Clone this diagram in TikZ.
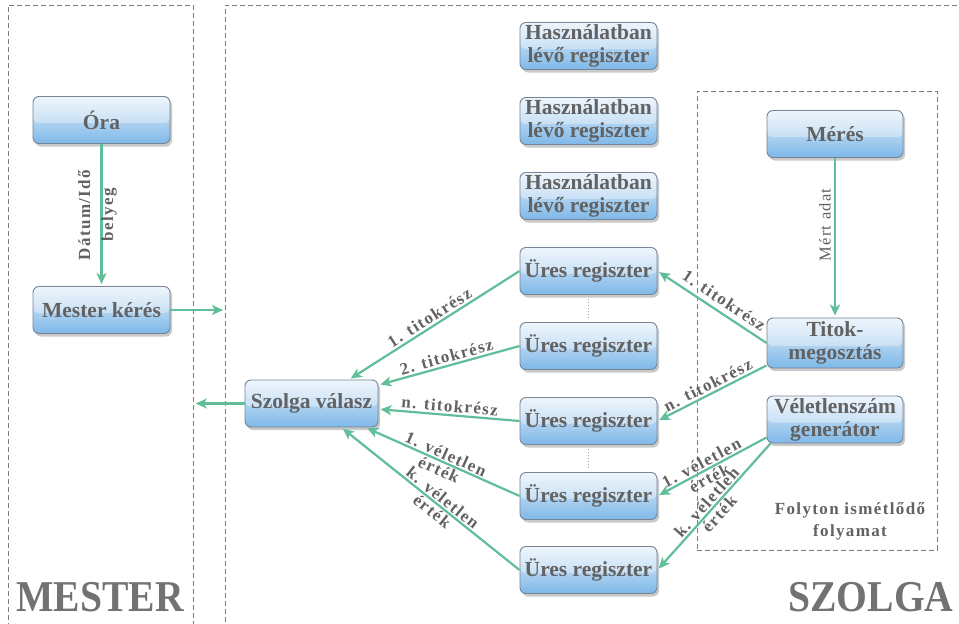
\documentclass[tikz,border=0pt]{standalone}
\usepackage{fontspec}
\setmainfont{Liberation Serif}
\newfontfamily\lblfont[LetterSpace=8]{Liberation Serif}
\newfontfamily\bigfont[FakeStretch=0.9]{Liberation Serif}
\usetikzlibrary{shadows,calc,arrows.meta}

\definecolor{arrowc}{RGB}{96,190,152}
\definecolor{txt}{RGB}{98,98,98}
\definecolor{boxtop}{RGB}{230,241,251}
\definecolor{boxbot}{RGB}{126,184,232}
\definecolor{boxedge}{RGB}{118,132,150}
\definecolor{panelc}{RGB}{125,125,125}

\tikzset{
  box/.style={draw=boxedge, line width=0.9pt, rounded corners=6pt,
    top color=boxtop, bottom color=boxbot,
    minimum width=137pt, minimum height=47pt, inner sep=1pt,
    align=center, text=txt, font=\bfseries\fontsize{21.5}{23}\selectfont,
    drop shadow={shadow xshift=2pt, shadow yshift=-3pt, opacity=0.35, fill=black!60},
    path picture={\fill[white,opacity=0.35]
      (path picture bounding box.north west) rectangle ([yshift=-3pt]path picture bounding box.east);}},
  panel/.style={draw=panelc, line width=0.8pt, dash pattern=on 5pt off 3pt},
  arr/.style={draw=arrowc, line width=2.2pt, shorten >=2pt,
    -{Stealth[length=11pt, width=10pt, inset=3pt]}},
  lbl/.style={font=\lblfont\bfseries\fontsize{17}{17}\selectfont, text=txt,
    align=center, inner sep=2pt},
  big/.style={font=\bigfont\bfseries\fontsize{44}{44}\selectfont, text=txt!90, anchor=base}
}

\begin{document}
\begin{tikzpicture}[x=1pt,y=-1pt]
\useasboundingbox (0,0) rectangle (959,624);
\fill[white] (0,0) rectangle (959,624);

% panels
\node[panel, minimum width=185pt, minimum height=700pt, anchor=north west, inner sep=0pt] (mp) at (8,5) {};
\node[panel, minimum width=780pt, minimum height=700pt, anchor=north west, inner sep=0pt] (sp) at (225,5) {};
\node[panel, minimum width=240pt, minimum height=459pt, anchor=north west, inner sep=0pt] (fp) at (697,91) {};

% MESTER side
\node[box] (ora) at (101.5,120) {Óra};
\node[box] (mk) at (101.5,310) {Mester kérés};

% SZOLGA side
\node[box, minimum width=133pt] (sz) at (311.5,403.5) {Szolga válasz};

\node[box] (h1) at (588.5,46)  {Használatban\\lévő regiszter};
\node[box] (h2) at (588.5,121) {Használatban\\lévő regiszter};
\node[box] (h3) at (588.5,196) {Használatban\\lévő regiszter};

\node[box] (u1) at (588.5,271) {Üres regiszter};
\node[box] (u2) at (588.5,346) {Üres regiszter};
\node[box] (u3) at (588.5,421) {Üres regiszter};
\node[box] (u4) at (588.5,496) {Üres regiszter};
\node[box] (u5) at (588.5,570) {Üres regiszter};

\node[box, minimum width=136pt] (me) at (835,134) {Mérés};
\node[box, minimum width=136pt, minimum height=50pt] (tm) at (835,343) {Titok-\\megosztás};
\node[box, minimum width=136pt] (vg) at (835,419.5) {Véletlenszám\\generátor};

% register gaps
\draw[dotted, line width=1pt, gray!70] ([yshift=-4pt]u1.south) -- ([yshift=4pt]u2.north);
\draw[dotted, line width=1pt, gray!70] ([yshift=-4pt]u3.south) -- ([yshift=4pt]u4.north);

% connectors
\draw[arr] (ora) -- node[lbl, rotate=90, yshift=4pt,
  font=\lblfont\bfseries\fontsize{17}{23}\selectfont] {Dátum/Idő\\belyeg} (mk);
\draw[arr] (mk.east) -- (mk.east -| sp.west);
\draw[arr] (sz.west) -- (sz.west -| mp.east);
\draw[arr] (me) -- node[pos=.42, rotate=90, anchor=south, inner sep=3pt,
  font=\lblfont\fontsize{16.5}{16.5}\selectfont, text=txt] {Mért adat} (tm);

\draw[arr] (tm.west) -- node[lbl, sloped, above, pos=.45, yshift=3pt] {1. titokrész} (u1.east);
\draw[arr] ([yshift=3pt]tm.south west) -- node[lbl, sloped, above, pos=.5] {n. titokrész} (u3.east);
\draw[arr] ([yshift=6pt]vg.south west) -- node[lbl, sloped, pos=.56] {1. véletlen\\érték} (u4.east);
\draw[arr] ([xshift=4pt]vg.south west) -- node[lbl, sloped, pos=.51] {k. véletlen\\érték} (u5.east);

\draw[arr] (u1.west) -- node[lbl, sloped, above, pos=.5] {1. titokrész} (sz);
\draw[arr] (u2.west) -- node[lbl, sloped, above, pos=.5] {2. titokrész} (sz);
\draw[arr] (u3.west) -- node[lbl, sloped, above, pos=.5] {n. titokrész} (sz);
\draw[arr] (u4.west) -- node[lbl, sloped, pos=.5] {1. véletlen\\érték} (sz);
\draw[arr] (u5.west) -- node[lbl, sloped, pos=.46] {k. véletlen\\érték} (sz);

% captions
\node[lbl, inner sep=0pt, font=\lblfont\bfseries\fontsize{17}{22}\selectfont] (fl) at (850,521) {Folyton ismétlődő\\folyamat};
\node[big] (mt) at (100,611) {MESTER};
\node[big] (st) at (871,611) {SZOLGA};
\end{tikzpicture}
\end{document}
